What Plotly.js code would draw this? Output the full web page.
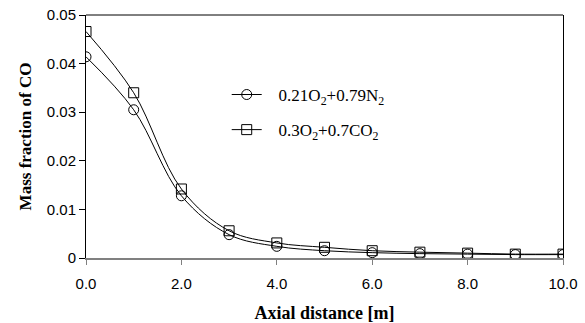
<!DOCTYPE html>
<html>
<head>
<meta charset="utf-8">
<script src="https://cdn.plot.ly/plotly-3.0.1.min.js"></script>
<style>html,body{margin:0;padding:0;background:#fff}#chart{width:585px;height:323px}</style>
</head>
<body>
<div id="chart"></div>
<script>
var axialDistance = [0, 1, 2, 3, 4, 5, 6, 7, 8, 9, 10];
var airCO = [0.0414, 0.0305, 0.0128, 0.0048, 0.0024, 0.0015, 0.0011, 0.0009, 0.0008, 0.0007, 0.0007];
var oxyCO = [0.0466, 0.0340, 0.0142, 0.0056, 0.0031, 0.0022, 0.0015, 0.0012, 0.0010, 0.0008, 0.0008];
var seriesNames = ['\u2002\u20090.21O<sub>2</sub>+0.79N<sub>2</sub>', '\u2002\u20090.3O<sub>2</sub>+0.7CO<sub>2</sub>'];
var xTickVals = [0, 2, 4, 6, 8, 10];
var xTickText = ['0.0', '2.0', '4.0', '6.0', '8.0', '10.0'];
var yTickVals = [0, 0.01, 0.02, 0.03, 0.04, 0.05];
var yTickText = ['0', '0.01', '0.02', '0.03', '0.04', '0.05'];

var traces = [
  {x: axialDistance, y: airCO, name: seriesNames[0], mode: 'lines+markers', legendgroup: 'a',
   line: {color: '#000', width: 1, shape: 'spline'},
   marker: {symbol: 'circle-open', size: 10, color: '#000', line: {width: 1, color: '#000'}}},
  {x: axialDistance, y: oxyCO, name: seriesNames[1], mode: 'lines+markers', legendgroup: 'b',
   line: {color: '#000', width: 1, shape: 'spline'},
   marker: {symbol: 'square-open', size: 10, color: '#000', line: {width: 1, color: '#000'}}}
];

var layout = {
  width: 585, height: 323,
  margin: {l: 86, r: 22, t: 15, b: 65},
  paper_bgcolor: '#fff', plot_bgcolor: '#fff',
  showlegend: true,
  legend: {x: 0.295, y: 0.745, xanchor: 'left', yanchor: 'top', bgcolor: 'rgba(0,0,0,0)',
           font: {family: 'Liberation Serif', size: 17, color: '#000'},
           itemwidth: 30,
           traceorder: 'grouped', tracegroupgap: 10},
  xaxis: {range: [0, 10], tickvals: xTickVals, ticktext: xTickText,
          showgrid: false, zeroline: false, showline: true, linecolor: '#808080', linewidth: 2,
          ticks: 'outside', ticklen: 5, tickcolor: '#808080', tickwidth: 1,
          ticklabelstandoff: 6,
          tickfont: {family: 'Liberation Sans', size: 15, color: '#000'},
          title: {text: 'Axial distance [m]', standoff: 16,
                  font: {family: 'Liberation Serif', size: 18, color: '#000', weight: 'bold'}}},
  yaxis: {range: [0, 0.05], tickvals: yTickVals, ticktext: yTickText,
          showgrid: false, zeroline: false, showline: true, linecolor: '#000', linewidth: 1, mirror: true,
          ticks: 'outside', ticklen: 6, tickcolor: '#000', tickwidth: 1,
          tickfont: {family: 'Liberation Sans', size: 15, color: '#000'},
          title: {text: 'Mass fraction of CO', standoff: 10,
                  font: {family: 'Liberation Serif', size: 17, color: '#000', weight: 'bold'}}},
  shapes: [{type: 'line', xref: 'paper', yref: 'paper', x0: 0, x1: 1, y0: 1, y1: 1,
            line: {color: '#000', width: 1}}]
};

Plotly.newPlot('chart', traces, layout, {displayModeBar: false, staticPlot: true});
</script>
</body>
</html>
